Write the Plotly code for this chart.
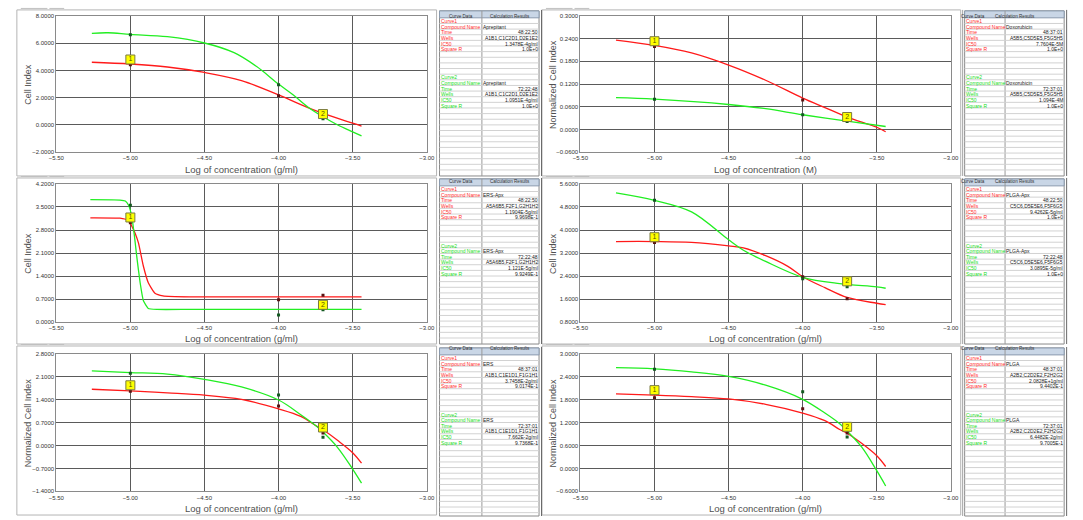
import plotly.graph_objects as go

W, H = 1083, 520

# ---------------- data ----------------
pt_x = [-5.0, -4.0, -3.7]
lab_x = [-5.0, -3.7]

# panel 1 (Aprepitant)
p1_red_x = [-5.26, -5.0, -4.75, -4.5, -4.25, -4.0, -3.75, -3.5, -3.44]
p1_red_y = [4.60, 4.47, 4.25, 3.85, 3.25, 2.20, 1.05, 0.13, -0.08]
p1_grn_x = [-5.26, -5.15, -5.0, -4.75, -4.5, -4.3, -4.15, -4.0, -3.9, -3.8, -3.7, -3.6, -3.5, -3.44]
p1_grn_y = [6.72, 6.76, 6.64, 6.47, 6.01, 5.30, 4.30, 3.00, 2.20, 1.30, 0.60, 0.00, -0.50, -0.80]
p1_red_pts = [4.42, 2.14, 0.85]
p1_grn_pts = [6.62, 2.95, 0.45]
p1_lab_y = [4.80, 0.80]

# panel 2 (Doxorubicin)
p2_red_x = [-5.26, -5.0, -4.75, -4.5, -4.25, -4.0, -3.85, -3.7, -3.5, -3.44]
p2_red_y = [0.236, 0.222, 0.202, 0.170, 0.130, 0.083, 0.058, 0.033, 0.006, -0.006]
p2_grn_x = [-5.26, -5.0, -4.5, -4.25, -4.0, -3.7, -3.44]
p2_grn_y = [0.084, 0.080, 0.066, 0.055, 0.039, 0.022, 0.008]
p2_red_pts = [0.219, 0.078, 0.028]
p2_grn_pts = [0.080, 0.039, 0.021]
p2_lab_y = [0.233, 0.033]

# panel 3 (ERS-Apx)
p3_red_x = [-5.27, -5.07, -5.02, -4.994, -4.968, -4.945, -4.912, -4.879, -4.834, -4.78, -4.6, -3.44]
p3_red_y = [3.17, 3.16, 3.10, 2.95, 2.70, 2.40, 1.70, 1.20, 0.88, 0.80, 0.77, 0.77]
p3_grn_x = [-5.27, -5.07, -5.034, -5.012, -4.99, -4.972, -4.957, -4.934, -4.912, -4.879, -4.82, -4.6, -3.44]
p3_grn_y = [3.72, 3.71, 3.68, 3.55, 3.20, 2.60, 2.00, 1.20, 0.65, 0.42, 0.39, 0.39, 0.39]
p3_red_pts = [3.02, 0.68, 0.82]
p3_grn_pts = [3.55, 0.22, 0.38]
p3_lab_y = [3.18, 0.53]

# panel 4 (PLGA-Apx)
p4_red_x = [-5.26, -5.0, -4.75, -4.5, -4.4, -4.25, -4.1, -4.0, -3.85, -3.7, -3.5, -3.44]
p4_red_y = [3.60, 3.60, 3.57, 3.45, 3.38, 3.11, 2.74, 2.38, 2.00, 1.66, 1.46, 1.41]
p4_grn_x = [-5.26, -5.0, -4.75, -4.5, -4.4, -4.25, -4.0, -3.75, -3.5, -3.44]
p4_grn_y = [5.29, 5.03, 4.63, 3.66, 3.30, 2.91, 2.36, 2.14, 2.03, 1.98]
p4_red_pts = [3.57, 2.38, 1.62]
p4_grn_pts = [5.03, 2.31, 2.03]
p4_lab_y = [3.75, 2.22]

# panel 5 (ERS)
p5_x = [-5.26, -5.0, -4.75, -4.5, -4.25, -4.0, -3.85, -3.75, -3.7, -3.6, -3.5, -3.44]
p5_red_y = [1.72, 1.67, 1.61, 1.54, 1.41, 1.12, 0.89, 0.61, 0.48, 0.15, -0.22, -0.54]
p5_grn_y = [2.28, 2.23, 2.18, 2.02, 1.79, 1.39, 0.94, 0.61, 0.41, -0.07, -0.72, -1.15]
p5_red_pts = [1.66, 1.21, 0.38]
p5_grn_pts = [2.21, 1.54, 0.25]
p5_lab_y = [1.84, 0.55]

# panel 6 (PLGA)
p6_x = [-5.26, -5.0, -4.75, -4.5, -4.25, -4.0, -3.85, -3.75, -3.7, -3.6, -3.5, -3.44]
p6_red_y = [1.95, 1.92, 1.88, 1.82, 1.68, 1.45, 1.25, 1.02, 0.92, 0.65, 0.33, 0.05]
p6_grn_y = [2.64, 2.61, 2.53, 2.41, 2.18, 1.81, 1.45, 1.17, 0.98, 0.55, -0.06, -0.46]
p6_red_pts = [1.85, 1.56, 0.93]
p6_grn_pts = [2.60, 2.01, 0.82]
p6_lab_y = [2.05, 1.09]

y_titles = ["Cell Index", "Normalized Cell Index", "Cell Index", "Cell Index",
            "Normalized Cell Index", "Normalized Cell Index"]
x_titles = ["Log of concentration (g/ml)", "Log of concentration (M)",
            "Log of concentration (g/ml)", "Log of concentration (g/ml)",
            "Log of concentration (g/ml)", "Log of concentration (g/ml)"]
y_ranges = [(-2.0, 8.0), (-0.06, 0.30), (0.0, 4.2), (0.8, 5.6), (-1.4, 2.8), (-0.6, 3.0)]
y_dticks = [2.0, 0.06, 0.7, 0.8, 0.7, 0.6]

table_keys = ["Compound Name", "Time", "Wells", "IC50", "Square R"]
tables = [
    (["Aprepitant", "48:22:50", "A1B1,C1C2D1,D2E1E2", "1.3478E-4g/ml", "1.0E+0"],
     ["Aprepitant", "72:22:48", "A1B1,C1C2D1,D2E1E2", "1.0951E-4g/ml", "1.0E+0"]),
    (["Doxorubicin", "48:37:01", "A5B5,C5D5E5,F5G5H5", "7.7604E-5M", "1.0E+0"],
     ["Doxorubicin", "72:37:01", "A5B5,C5D5E5,F5G5H5", "1.094E-4M", "1.0E+0"]),
    (["ERS-Apx", "48:22:50", "A5A6B5,F2F1,G2H1H2", "1.1904E-5g/ml", "9.9698E-1"],
     ["ERS-Apx", "72:22:48", "A5A6B5,F2F1,G2H1H2", "1.121E-5g/ml", "9.9249E-1"]),
    (["PLGA-Apx", "48:22:50", "C5C6,D5E5E6,F5F6G5", "9.4262E-5g/ml", "1.0E+0"],
     ["PLGA-Apx", "72:22:48", "C5C6,D5E5E6,F5F6G5", "3.0895E-5g/ml", "1.0E+0"]),
    (["ERS", "48:37:01", "A1B1,C1E1D1,F1G1H1", "3.7458E-2g/ml", "9.0174E-1"],
     ["ERS", "72:37:01", "A1B1,C1E1D1,F1G1H1", "7.662E-2g/ml", "9.7368E-1"]),
    (["PLGA", "48:37:01", "A2B2,C2D2E2,F2H2G2", "2.0828E+1g/ml", "9.4402E-1"],
     ["PLGA", "72:37:01", "A2B2,C2D2E2,F2H2G2", "6.4482E-2g/ml", "9.7005E-1"]),
]

panels = [
    (p1_red_x, p1_red_y, p1_grn_x, p1_grn_y, p1_red_pts, p1_grn_pts, p1_lab_y, 1.0),
    (p2_red_x, p2_red_y, p2_grn_x, p2_grn_y, p2_red_pts, p2_grn_pts, p2_lab_y, 1.0),
    (p3_red_x, p3_red_y, p3_grn_x, p3_grn_y, p3_red_pts, p3_grn_pts, p3_lab_y, 0.4),
    (p4_red_x, p4_red_y, p4_grn_x, p4_grn_y, p4_red_pts, p4_grn_pts, p4_lab_y, 1.0),
    (p5_x, p5_red_y, p5_x, p5_grn_y, p5_red_pts, p5_grn_pts, p5_lab_y, 1.0),
    (p6_x, p6_red_y, p6_x, p6_grn_y, p6_red_pts, p6_grn_pts, p6_lab_y, 1.0),
]

# ---------------- layout geometry (pixels) ----------------
col_plot_x = [(49, 425), (581, 957)]
row_plot_y = [(13, 151), (183, 323), (355, 494)]
col_frame_x = [(9, 435), (542, 967)]
row_frame_y = [(7, 175), (177, 345), (347, 518)]
col_table_x = [(438, 481, 539), (971, 1012, 1072)]
row_table_top = [8, 178, 349]
row_table_bot = [175, 345, 519]
xtitle_py = [168, 339, 511]
ytitle_px = [20, 553]

RED = "#ff1a1a"
GRN = "#22ee22"
RED_TXT = "#ff2a2a"
GRN_TXT = "#22dd22"
TFONT = "Liberation Sans, Arial, sans-serif"
TSIZE = 5.0


def X(px):
    return px / W


def Y(py):
    return 1 - py / H


fig = go.Figure()
shapes = []
annots = []
layout_axes = {}

for i, pan in enumerate(panels):
    r, c = divmod(i, 2)
    rx, ry, gx, gy, rpts, gpts, laby, smooth = pan
    n = i + 1
    xa = "x" if n == 1 else f"x{n}"
    ya = "y" if n == 1 else f"y{n}"
    xk = "xaxis" if n == 1 else f"xaxis{n}"
    yk = "yaxis" if n == 1 else f"yaxis{n}"

    fx0, fx1 = col_frame_x[c]
    fy0, fy1 = row_frame_y[r]
    shapes.append(dict(type="rect", xref="paper", yref="paper", x0=X(fx0), x1=X(fx1),
                       y0=Y(fy1), y1=Y(fy0), line=dict(color="#b4b4b4", width=1),
                       fillcolor="white", layer="below"))
    shapes.append(dict(type="line", xref="paper", yref="paper", x0=X(fx0 + 4), x1=X(fx0 + 31),
                       y0=Y(fy0 - 1.5), y1=Y(fy0 - 1.5), line=dict(color="#c0c0c0", width=1)))
    shapes.append(dict(type="line", xref="paper", yref="paper", x0=X(fx0 + 33), x1=X(fx0 + 48),
                       y0=Y(fy0 - 1.5), y1=Y(fy0 - 1.5), line=dict(color="#c0c0c0", width=1)))

    px0, px1 = col_plot_x[c]
    py0, py1 = row_plot_y[r]
    y0, y1 = y_ranges[i]
    layout_axes[xk] = dict(domain=[X(px0), X(px1)], range=[-5.5, -3.0], anchor=ya,
                           tick0=-5.5, dtick=0.5, tickformat=".2f",
                           showgrid=True, gridcolor="#5a5a5a", gridwidth=1,
                           showline=True, linecolor="#8a8a8a", linewidth=1, mirror=True,
                           zeroline=False, ticks="", tickfont=dict(size=6, color="#333333"))
    layout_axes[yk] = dict(domain=[Y(py1), Y(py0)], range=[y0, y1], anchor=xa,
                           tick0=y0, dtick=y_dticks[i], tickformat=".4f",
                           showgrid=True, gridcolor="#5a5a5a", gridwidth=1,
                           showline=True, linecolor="#8a8a8a", linewidth=1, mirror=True,
                           zeroline=False, ticks="", tickfont=dict(size=6, color="#333333"))

    fig.add_trace(go.Scatter(x=rx, y=ry, mode="lines", xaxis=xa, yaxis=ya,
                             line=dict(color=RED, width=1.3, shape="spline", smoothing=smooth),
                             showlegend=False, hoverinfo="skip"))
    fig.add_trace(go.Scatter(x=gx, y=gy, mode="lines", xaxis=xa, yaxis=ya,
                             line=dict(color=GRN, width=1.3, shape="spline", smoothing=smooth),
                             showlegend=False, hoverinfo="skip"))
    fig.add_trace(go.Scatter(x=pt_x, y=rpts, mode="markers", xaxis=xa, yaxis=ya,
                             marker=dict(symbol="square", size=3, color="#5a1212"),
                             showlegend=False, hoverinfo="skip"))
    fig.add_trace(go.Scatter(x=pt_x, y=gpts, mode="markers", xaxis=xa, yaxis=ya,
                             marker=dict(symbol="square", size=3, color="#125a20"),
                             showlegend=False, hoverinfo="skip"))
    fig.add_trace(go.Scatter(x=lab_x, y=laby, mode="markers+text", xaxis=xa, yaxis=ya,
                             text=["1", "2"], textposition="middle center",
                             textfont=dict(size=7, color="#555500"),
                             marker=dict(symbol="square", size=9, color="#ffff00",
                                         line=dict(color="#7a7a40", width=1)),
                             showlegend=False, hoverinfo="skip"))

    annots.append(dict(xref="paper", yref="paper", x=X((px0 + px1) / 2), y=Y(xtitle_py[r]),
                       text=x_titles[i], showarrow=False, xanchor="center", yanchor="middle",
                       font=dict(size=9.5, color="#505050")))
    annots.append(dict(xref="paper", yref="paper", x=X(ytitle_px[c]), y=Y((py0 + py1) / 2),
                       text=y_titles[i], showarrow=False, textangle=-90,
                       xanchor="center", yanchor="middle",
                       font=dict(size=9, color="#505050")))

    # ---------------- table ----------------
    tx0, tsplit, tx1 = col_table_x[c]
    ttop = row_table_top[r]
    tbot = row_table_bot[r]
    hdr_h = 7.0
    row_h = 5.7
    shapes.append(dict(type="rect", xref="paper", yref="paper", x0=X(tx0), x1=X(tx1),
                       y0=Y(tbot), y1=Y(ttop), line=dict(color="#8a8a8a", width=1),
                       fillcolor="white", layer="below"))
    shapes.append(dict(type="rect", xref="paper", yref="paper", x0=X(tx0), x1=X(tx1),
                       y0=Y(ttop + hdr_h), y1=Y(ttop), line=dict(color="#8a9aae", width=1),
                       fillcolor="#c9d6e6"))
    shapes.append(dict(type="line", xref="paper", yref="paper", x0=X(tsplit), x1=X(tsplit),
                       y0=Y(tbot), y1=Y(ttop), line=dict(color="#9a9a9a", width=1)))
    shapes.append(dict(type="line", xref="paper", yref="paper", x0=X(tx1 + 2.5), x1=X(tx1 + 2.5),
                       y0=Y(tbot), y1=Y(ttop - 1), line=dict(color="#6a6a6a", width=1)))
    yy = ttop + hdr_h + row_h
    while yy < tbot - 0.5:
        shapes.append(dict(type="line", xref="paper", yref="paper", x0=X(tx0), x1=X(tx1),
                           y0=Y(yy), y1=Y(yy), line=dict(color="#d2d2d2", width=1)))
        yy += row_h
    hy = Y(ttop + 3.0)
    annots.append(dict(xref="paper", yref="paper", x=X((tx0 + tsplit) / 2), y=hy,
                       text="Curve Data", showarrow=False, borderpad=0, borderwidth=0,
                       font=dict(size=4.6, color="#333333", family=TFONT)))
    annots.append(dict(xref="paper", yref="paper", x=X((tsplit + tx1) / 2), y=hy,
                       text="Calculation Results", showarrow=False, borderpad=0, borderwidth=0,
                       font=dict(size=4.6, color="#333333", family=TFONT)))
    for g, (vals, col, start_row) in enumerate([(tables[i][0], RED_TXT, 0),
                                                 (tables[i][1], GRN_TXT, 10)]):
        labels = [f"Curve{g + 1}"] + table_keys
        for k, lab in enumerate(labels):
            cy = ttop + hdr_h + (start_row + k + 0.5) * row_h + 0.5
            annots.append(dict(xref="paper", yref="paper", x=X(tx0 + 1), y=Y(cy), text=lab,
                               showarrow=False, xanchor="left", yanchor="middle",
                               borderpad=0, borderwidth=0,
                               font=dict(size=TSIZE, color=col, family=TFONT)))
            if k >= 1:
                v = vals[k - 1]
                if k == 1:
                    annots.append(dict(xref="paper", yref="paper", x=X(tsplit + 1), y=Y(cy),
                                       text=v, showarrow=False, xanchor="left", yanchor="middle",
                                       borderpad=0, borderwidth=0,
                                       font=dict(size=TSIZE, color="#222222", family=TFONT)))
                else:
                    annots.append(dict(xref="paper", yref="paper", x=X(tx1 - 1), y=Y(cy),
                                       text=v, showarrow=False, xanchor="right", yanchor="middle",
                                       borderpad=0, borderwidth=0,
                                       font=dict(size=TSIZE, color="#222222", family=TFONT)))

for r in range(3):
    shapes.append(dict(type="line", xref="paper", yref="paper", x0=X(969), x1=X(969),
                       y0=Y(row_table_bot[r]), y1=Y(row_table_top[r] - 1),
                       line=dict(color="#a0a0a0", width=1)))

fig.update_layout(width=W, height=H, margin=dict(l=0, r=0, t=0, b=0),
                  paper_bgcolor="white", plot_bgcolor="white",
                  font=dict(family="Liberation Sans, Arial, sans-serif"),
                  shapes=shapes, annotations=annots, showlegend=False, **layout_axes)

fig.write_html("out.html", config={"displayModeBar": False},
               post_script="document.body.style.margin='0px';document.body.style.overflow='hidden';")
